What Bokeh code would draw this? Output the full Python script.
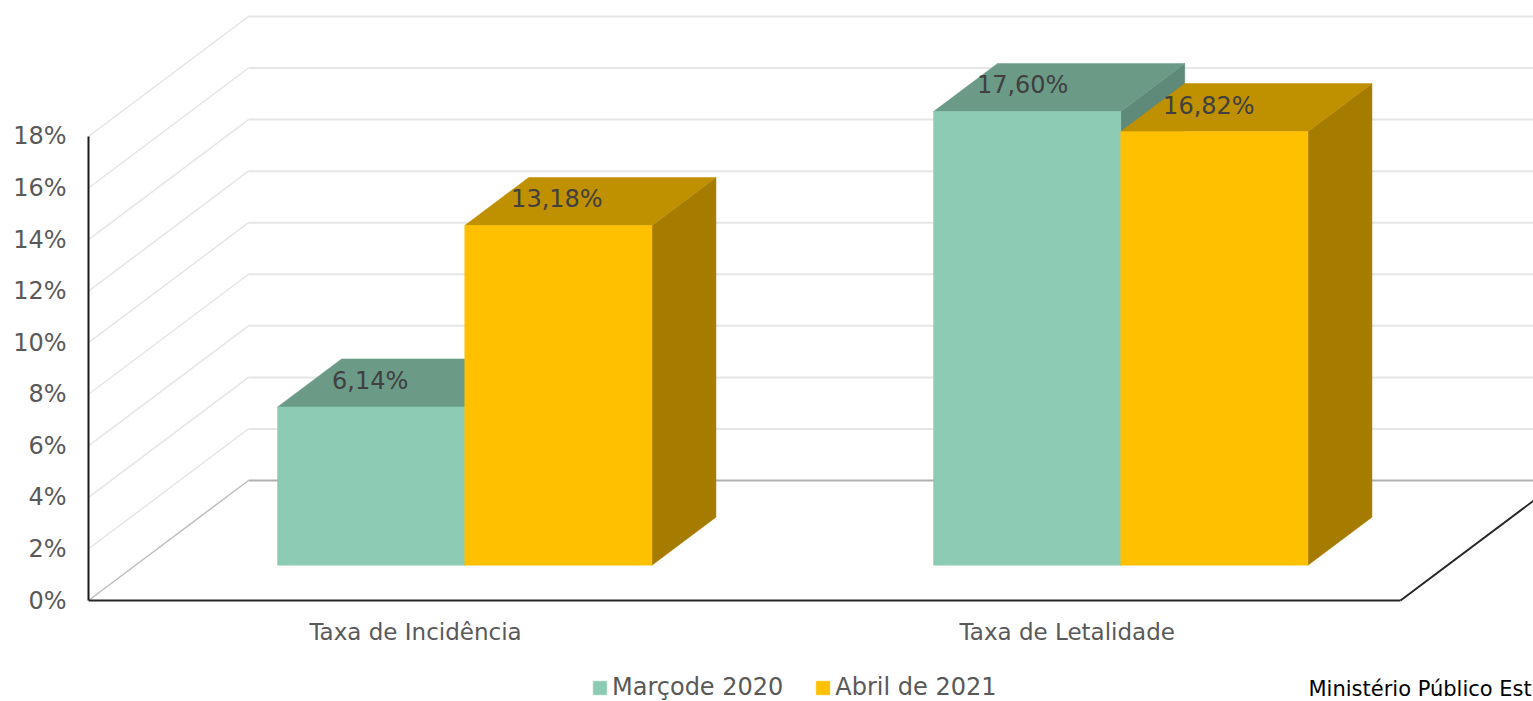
from bokeh.plotting import figure
from bokeh.models import (Range1d, LinearAxis, FixedTicker, Legend, LegendItem, Label,
                          ColumnDataSource)
from bokeh.core.properties import value
from bokeh.embed import file_html
from bokeh.resources import INLINE

categories = ["Taxa de Incidência", "Taxa de Letalidade"]
marco_2020 = [6.14, 17.60]
abril_2021 = [13.18, 16.82]
series_names = ["Marçode 2020", "Abril de 2021"]
value_labels_marco = ["6,14%", "17,60%"]
value_labels_abril = ["13,18%", "16,82%"]
y_ticks = [0, 2, 4, 6, 8, 10, 12, 14, 16, 18]

FONT = "DejaVu Sans"
TXT = "#595959"

# layout in pixels of the page
W, H = 1533, 701
LEFT, FLOOR = 88, 600
PX_PER_CAT = 656.0
PX_PER_VAL = 25.78
DEPTH_PX_X, DEPTH_PX_Y = 160.0, 120.0


def proj(x, v, d):
    """Project a point (category units, value, depth 0..1) onto the 2D data plane."""
    return (x + d * DEPTH_PX_X / PX_PER_CAT, v + d * DEPTH_PX_Y / PX_PER_VAL)


p = figure(width=W, height=H, output_backend="svg", toolbar_location=None,
           x_range=Range1d(0, (W - LEFT) / PX_PER_CAT),
           y_range=Range1d(-(H - FLOOR) / PX_PER_VAL, FLOOR / PX_PER_VAL),
           min_border_left=LEFT, min_border_right=0, min_border_top=0,
           min_border_bottom=0, x_axis_type=None, y_axis_type=None)
p.outline_line_color = None
p.xgrid.visible = False
p.ygrid.visible = False
p.background_fill_color = "white"
p.border_fill_color = "white"

# y axis
ya = LinearAxis(ticker=FixedTicker(ticks=y_ticks),
                major_label_overrides={t: f"{t}%" for t in y_ticks},
                bounds=(0, 18), axis_line_color="#1a1a1a", axis_line_width=2,
                major_tick_line_color=None, minor_tick_line_color=None,
                major_label_text_color=TXT, major_label_text_font=FONT,
                major_label_text_font_size="24px", major_label_standoff=16)
p.add_layout(ya, "left")

# x axis
label_ticks = [0.4985, 1.492]
xa = LinearAxis(ticker=FixedTicker(ticks=label_ticks), fixed_location=0,
                major_label_overrides=dict(zip(label_ticks, categories)),
                bounds=(0, 2), axis_line_color="#262626", axis_line_width=2,
                major_tick_line_color=None, minor_tick_line_color=None,
                major_label_text_color=TXT, major_label_text_font=FONT,
                major_label_text_font_size="23px", major_label_standoff=12)
p.add_layout(xa, "below")

# walls
xs_side, ys_side, xs_back, ys_back = [], [], [], []
for t in y_ticks:
    a, b = proj(0, t, 0), proj(0, t, 1)
    c = proj(2, t, 1)
    if t > 0:
        xs_side.append([a[0], b[0]]); ys_side.append([a[1], b[1]])
        xs_back.append([b[0], c[0]]); ys_back.append([b[1], c[1]])
p.multi_line(xs_side, ys_side, line_color="#e6e6e6", line_width=1.5)
p.multi_line(xs_back, ys_back, line_color="#e6e6e6", line_width=2)

# floor
a, b, c = proj(0, 0, 0), proj(0, 0, 1), proj(2, 0, 1)
p.line([a[0], b[0]], [a[1], b[1]], line_color="#bdbdbd", line_width=1.5)
p.line([b[0], c[0]], [b[1], c[1]], line_color="#b0b0b0", line_width=2)
e, f = proj(2, 0, 0), proj(2, 0, 1)
p.line([e[0], f[0]], [e[1], f[1]], line_color="#262626", line_width=2)

# bars
BAR_START = 0.2165
BAR_W = 187.2 / PX_PER_CAT
D0, D1 = 0.294, 0.694


def bar_faces(x0, x1, v):
    front = [proj(x0, 0, D0), proj(x1, 0, D0), proj(x1, v, D0), proj(x0, v, D0)]
    top = [proj(x0, v, D0), proj(x1, v, D0), proj(x1, v, D1), proj(x0, v, D1)]
    side = [proj(x1, 0, D0), proj(x1, 0, D1), proj(x1, v, D1), proj(x1, v, D0)]
    return front, top, side


def draw_bars(offset, vals, c_front, c_top, c_side):
    fx, fy, tx, ty, sx, sy = [], [], [], [], [], []
    for i, v in enumerate(vals):
        x0 = i + BAR_START + offset
        fr, tp, sd = bar_faces(x0, x0 + BAR_W, v)
        fx.append([q[0] for q in fr]); fy.append([q[1] for q in fr])
        tx.append([q[0] for q in tp]); ty.append([q[1] for q in tp])
        sx.append([q[0] for q in sd]); sy.append([q[1] for q in sd])
    p.patches(sx, sy, fill_color=c_side, line_color=c_side, line_width=0.5)
    p.patches(tx, ty, fill_color=c_top, line_color=c_top, line_width=0.5)
    return p.patches(fx, fy, fill_color=c_front, line_color=c_front, line_width=0.5)


r1 = draw_bars(0, marco_2020, "#8ECBB5", "#6B9A87", "#5F8A7A")
r2 = draw_bars(BAR_W, abril_2021, "#FFC000", "#BF9000", "#A67C00")

# data labels
for offset, vals, labs, shift in [(0, marco_2020, value_labels_marco, [-1, -4.5]),
                                  (BAR_W, abril_2021, value_labels_abril, [-1.5, -5.5])]:
    pts = [proj(i + BAR_START + offset + BAR_W / 2, v, D0) for i, v in enumerate(vals)]
    src = ColumnDataSource(dict(x=[q[0] for q in pts], y=[q[1] for q in pts],
                                t=labs, dx=shift))
    p.text("x", "y", text="t", source=src, x_offset="dx", y_offset=-26,
           text_align="center", text_baseline="middle", text_color="#404040",
           text_font=value(FONT), text_font_size="24px")

# legend
legend = Legend(items=[LegendItem(label=series_names[0], renderers=[r1]),
                       LegendItem(label=series_names[1], renderers=[r2])],
                orientation="horizontal", location=(503, 0),
                background_fill_alpha=0, border_line_color=None,
                glyph_width=17, glyph_height=17, spacing=31, label_standoff=4,
                label_text_font=FONT, label_text_font_size="24px",
                label_text_color=TXT, padding=6, margin=0)
p.add_layout(legend, "center")

p.add_layout(Label(x=1308 - LEFT, y=1, x_units="screen", y_units="screen",
                   text="Ministério Público Est", text_color="black",
                   text_font=FONT, text_font_size="21px", text_baseline="bottom"))

open("out.html", "w").write(file_html(p, INLINE))
